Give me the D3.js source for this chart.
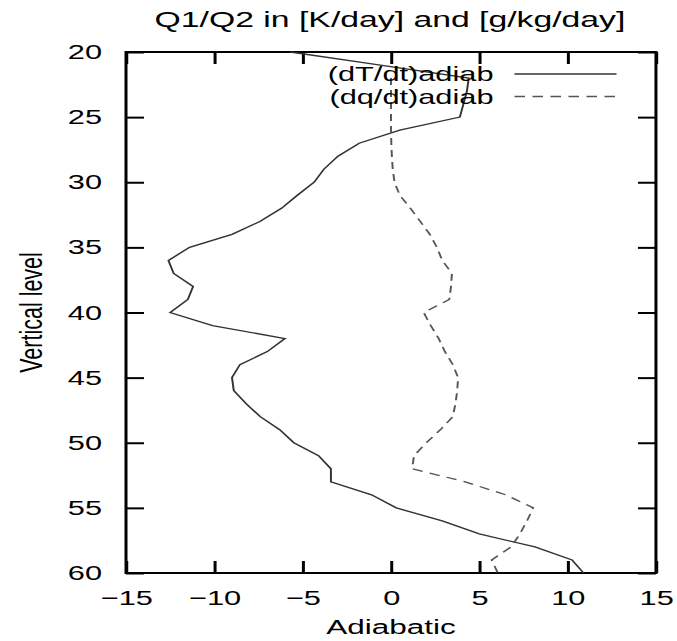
<!DOCTYPE html>
<html>
<head>
<meta charset="utf-8">
<script src="https://cdn.jsdelivr.net/npm/d3@7"></script>
<style>
    body { margin: 0; background: #fff; }
    text { font-family: "Liberation Sans", Arial, sans-serif; fill: #000; }
</style>
</head>
<body>
<script>
var levels = [20, 21, 22, 23, 24, 25, 26, 27, 28, 29, 30, 31, 32, 33, 34, 35, 36, 37, 38, 39, 40,
              41, 42, 43, 44, 45, 46, 47, 48, 49, 50, 51, 52, 53, 54, 55, 56, 57, 58, 59, 60];
var dTdt = [-5.7, -0.6, 4.4, 4.3, 4.1, 3.9, 0.5, -1.8, -3.0, -3.8, -4.35, -5.3, -6.2, -7.4, -9.0, -11.4, -12.6, -12.3, -11.2, -11.5, -12.5,
            -10.1, -6.0, -7.0, -8.55, -9.0, -8.9, -8.2, -7.4, -6.3, -5.5, -4.1, -3.4, -3.4, -1.1, 0.3, 2.9, 5.0, 8.15, 10.25, 10.9];
// first two levels of dq are hidden under the legend
var dqLevels = levels.slice(2);
var dqdt = [0, 0, 0, 0, 0, 0.02, 0.05, 0.1, 0.2, 0.5, 1.1, 1.65, 2.2, 2.6, 2.9, 3.45, 3.4, 3.3, 1.85,
            2.25, 2.7, 3.05, 3.5, 3.8, 3.75, 3.65, 3.5, 2.8, 2.0, 1.3, 1.2, 4.2, 6.5, 8.05, 7.7, 7.3, 6.8, 5.7, 6.05];
var xTicks = [-15, -10, -5, 0, 5, 10, 15];
var yTicks = [20, 25, 30, 35, 40, 45, 50, 55, 60];
var seriesNames = ["(dT/dt)adiab", "(dq/dt)adiab"];

window.onload = drawChart();

function drawChart(){
    var W = 677, H = 641, sx = 1.5;
    var left = 84, right = 437.3, top = 52, bottom = 573;

    var svg = d3.select("body").append("svg")
        .attr("width", W)
        .attr("height", H);
    //the picture is stretched sideways, so everything is drawn in a squeezed frame
    var g = svg.append("g").attr("transform", "scale(" + sx + ",1)");

    var x = d3.scaleLinear().domain([-15, 15]).range([left, right]);
    var y = d3.scaleLinear().domain([20, 60]).range([top, bottom]);

    var fs = "20.5px";

    //inward ticks on all four sides
    g.append("g").attr("transform", "translate(0," + bottom + ")")
        .call(d3.axisBottom(x).tickValues(xTicks).tickSizeInner(-12).tickSizeOuter(0).tickPadding(17))
        .call(styleAxis);
    g.append("g").attr("transform", "translate(0," + top + ")")
        .call(d3.axisTop(x).tickValues(xTicks).tickSizeInner(-12).tickSizeOuter(0).tickFormat(""))
        .call(styleAxis);
    g.append("g").attr("transform", "translate(" + left + ",0)")
        .call(d3.axisLeft(y).tickValues(yTicks).tickSizeInner(-12).tickSizeOuter(0).tickPadding(16))
        .call(styleAxis);
    g.append("g").attr("transform", "translate(" + right + ",0)")
        .call(d3.axisRight(y).tickValues(yTicks).tickSizeInner(-12).tickSizeOuter(0).tickFormat(""))
        .call(styleAxis);

    function styleAxis(a){
        a.select(".domain").remove();
        a.selectAll(".tick line").attr("stroke", "#000").attr("stroke-width", 2);
        a.selectAll(".tick text").style("font-size", fs).attr("font-family", null);
    }

    g.append("rect")
        .attr("x", left).attr("y", top)
        .attr("width", right - left).attr("height", bottom - top)
        .attr("fill", "none").attr("stroke", "#000").attr("stroke-width", 2);

    var lineT = d3.line().x(function(d, i){ return x(dTdt[i]); }).y(function(d){ return y(d); });
    var lineQ = d3.line().x(function(d, i){ return x(dqdt[i]); }).y(function(d){ return y(d); });

    g.append("path").datum(levels)
        .attr("d", lineT)
        .attr("fill", "none").attr("stroke", "#333").attr("stroke-width", 1.3);
    g.append("path").datum(dqLevels)
        .attr("d", lineQ)
        .attr("fill", "none").attr("stroke", "#555").attr("stroke-width", 1.3)
        .attr("stroke-dasharray", "7,5");

    //legend
    var legend = g.selectAll(".legend")
        .data(seriesNames)
        .enter().append("g")
        .attr("class", "legend")
        .attr("transform", function(d, i){ return "translate(0," + (74 + i * 22.5) + ")"; });
    legend.append("text")
        .attr("x", 329).attr("dy", "0.35em")
        .attr("text-anchor", "end")
        .style("font-size", fs)
        .text(function(d){ return d; });
    legend.append("line")
        .attr("x1", 343).attr("x2", 411)
        .attr("stroke", function(d, i){ return i ? "#555" : "#333"; })
        .attr("stroke-width", 1.3)
        .attr("stroke-dasharray", function(d, i){ return i ? "7,5" : null; });

    g.append("text")
        .attr("x", 260).attr("y", 27)
        .attr("text-anchor", "middle")
        .style("font-size", "22.5px")
        .text("Q1/Q2 in [K/day] and [g/kg/day]");

    g.append("text")
        .attr("x", (left + right) / 2).attr("y", 634)
        .attr("text-anchor", "middle")
        .style("font-size", "21px")
        .text("Adiabatic");

    g.append("text")
        .attr("transform", "translate(28," + (top + bottom) / 2 + ") rotate(-90)")
        .attr("text-anchor", "middle")
        .style("font-size", "21.5px")
        .text("Vertical level");
}
</script>
</body>
</html>
